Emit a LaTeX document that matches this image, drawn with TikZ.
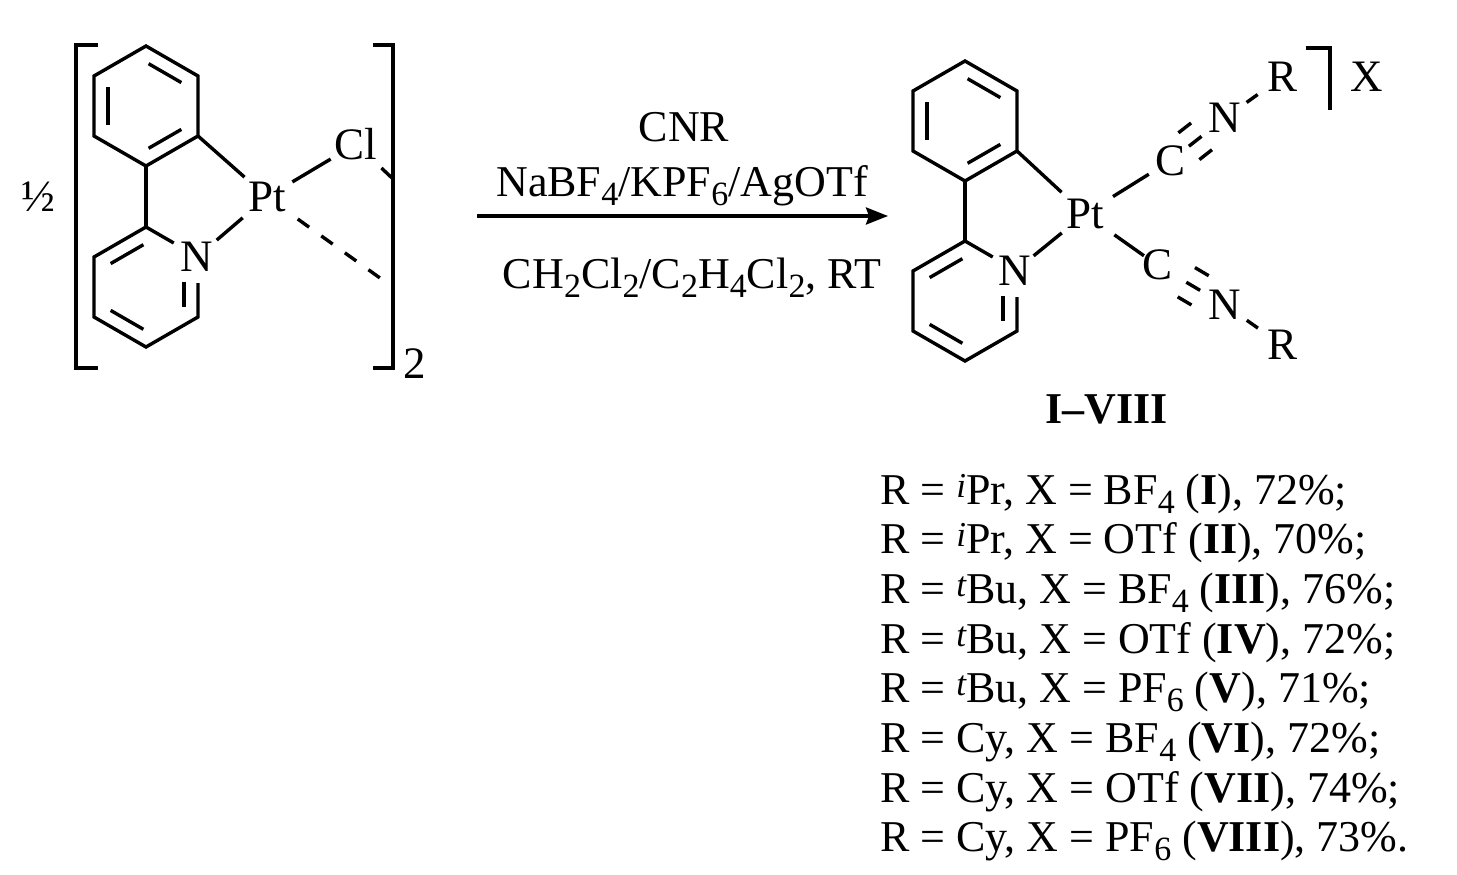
\documentclass[tikz,border=0pt]{standalone}
\usepackage{fontspec}
\setmainfont{Liberation Serif}
\usetikzlibrary{calc,arrows.meta}
\newcommand\sbs[1]{\raisebox{-9pt}{\fontsize{34}{34}\selectfont #1}}
\newcommand\sps[1]{\raisebox{7pt}{\fontsize{35}{35}\selectfont\itshape #1}}
\newcommand\hexring[3]{%
  \coordinate (#1c) at (#2,#3);
  \coordinate (#1t) at (#2,#3-60);
  \coordinate (#1ur) at (#2+52,#3-30);
  \coordinate (#1lr) at (#2+52,#3+30);
  \coordinate (#1b) at (#2,#3+60);
  \coordinate (#1ll) at (#2-52,#3+30);
  \coordinate (#1ul) at (#2-52,#3-30);
}
\newcommand\innerbond[5]{% ring, v1, v2, shorten at v1, shorten at v2
  \draw[bond, shorten <=#4, shorten >=#5] ($(#1c)!0.73!(#1#2)$) -- ($(#1c)!0.73!(#1#3)$);}
\newcommand\tribond[4]{%
  \foreach \o in {-17,0,17}{\draw[bond] ($(#1)!#3!(#2)!\o pt!90:(#2)$) -- ($(#1)!#4!(#2)!\o pt!90:(#2)$);}}
\begin{document}
\begin{tikzpicture}[x=1pt,y=-1pt,
  bond/.style={line width=3.4pt},
  atom/.style={inner sep=0pt, font=\fontsize{45}{50}\selectfont},
  txt/.style={inner sep=0pt, font=\fontsize{44}{50}\selectfont}]
\fill[white] (0,0) rectangle (1457,875);
\useasboundingbox (0,0) rectangle (1457,875);

% ---------- left dimer ----------
\hexring{ringA}{146}{106}
\hexring{ringB}{146}{287}
\node[atom] (N1) at (197,257) {N};
\node[atom] (Pt1) at (267,197) {Pt};
\node[atom] (Cl) at (356,144) {Cl};
\node[atom] (half) at (38,197) {½};
\node[atom, anchor=base] (two) at (415,378) {2};

\draw[bond] (ringAt) -- (ringAur) -- (ringAlr) -- (ringAb) -- (ringAll) -- (ringAul) -- cycle;
\innerbond{ringA}{t}{ur}{3pt}{3pt}
\innerbond{ringA}{ul}{ll}{3pt}{3pt}
\innerbond{ringA}{lr}{b}{3pt}{3pt}
\draw[bond] (ringAb) -- (ringBt);
\coordinate (BtN) at ($(ringBur)!28pt!(ringBt)$);
\coordinate (BlrN) at ($(ringBur)!26pt!(ringBlr)$);
\draw[bond] (BtN) -- (ringBt) -- (ringBul) -- (ringBll) -- (ringBb) -- (ringBlr) -- (BlrN);
\innerbond{ringB}{t}{ul}{3pt}{3pt}
\innerbond{ringB}{ll}{b}{3pt}{3pt}
\innerbond{ringB}{ur}{lr}{17pt}{2pt}

\draw[bond, shorten >=30pt] (ringAlr) -- (Pt1.center);
\draw[bond, shorten <=26pt, shorten >=32pt] (N1.center) -- (Pt1.center);
\draw[bond, shorten <=29.5pt, shorten >=29.5pt] (Pt1.center) -- (Cl.center);
\coordinate (clend) at (392,178);
\draw[bond, shorten <=35pt] (Cl.center) -- (clend);
\coordinate (dend) at (380,278);
\draw[bond, dash pattern=on 14pt off 15pt, shorten <=37.8pt] (Pt1.center) -- (dend);

\draw[bond] (98,45) -- (76,45) -- (76,368) -- (98,368);
\draw[bond] (373,45) -- (393,45) -- (393,368) -- (373,368);

% ---------- arrow ----------
\coordinate (arrS) at (477,216);
\coordinate (arrE) at (888,216);
\draw[line width=3.4pt, -{Stealth[length=22pt,width=17pt,inset=3pt]}] (arrS) -- (arrE);
\node[txt, anchor=base] (cnr) at (684,141) {CNR};
\node[txt, anchor=base] (salts) at (682,196) {NaBF\sbs{4}/KPF\sbs{6}/AgOTf};
\node[txt, anchor=base] (solv) at (692,288) {CH\sbs{2}Cl\sbs{2}/C\sbs{2}H\sbs{4}Cl\sbs{2}, RT};

% ---------- product ----------
\hexring{ringC}{965}{121}
\hexring{ringD}{965}{301}
\node[atom] (N2) at (1015,271) {N};
\node[atom] (Pt2) at (1085,214) {Pt};
\node[atom] (Ca) at (1170,161) {C};
\node[atom] (Cb) at (1157,265) {C};
\node[atom] (Na) at (1225,118) {N};
\node[atom] (Nb) at (1225,305) {N};
\node[atom] (Ra) at (1282,77) {R};
\node[atom] (Rb) at (1282,345) {R};
\node[atom] (X) at (1367,77) {X};

\draw[bond] (ringCt) -- (ringCur) -- (ringClr) -- (ringCb) -- (ringCll) -- (ringCul) -- cycle;
\innerbond{ringC}{t}{ur}{3pt}{3pt}
\innerbond{ringC}{ul}{ll}{3pt}{3pt}
\innerbond{ringC}{lr}{b}{3pt}{3pt}
\draw[bond] (ringCb) -- (ringDt);
\coordinate (DtN) at ($(ringDur)!28pt!(ringDt)$);
\coordinate (DlrN) at ($(ringDur)!26pt!(ringDlr)$);
\draw[bond] (DtN) -- (ringDt) -- (ringDul) -- (ringDll) -- (ringDb) -- (ringDlr) -- (DlrN);
\innerbond{ringD}{t}{ul}{3pt}{3pt}
\innerbond{ringD}{ll}{b}{3pt}{3pt}
\innerbond{ringD}{ur}{lr}{17pt}{2pt}

\draw[bond, shorten >=32pt] (ringClr) -- (Pt2.center);
\draw[bond, shorten <=24pt, shorten >=30pt] (N2.center) -- (Pt2.center);
\draw[bond, shorten <=33pt, shorten >=25pt] (Pt2.center) -- (Ca.center);
\draw[bond, shorten <=36pt, shorten >=16pt] (Pt2.center) -- (Cb.center);
\tribond{Ca.center}{Na.center}{24pt}{40pt}
\tribond{Cb.center}{Nb.center}{34pt}{50pt}
\draw[bond, shorten <=26.6pt, shorten >=30pt] (Na.center) -- (Ra.center);
\draw[bond, shorten <=26.6pt, shorten >=29.4pt] (Nb.center) -- (Rb.center);
\draw[bond] (1306,48) -- (1330,48) -- (1330,110);

\node[txt, anchor=base] (lbl) at (1107,423) {\textbf{I\textendash VIII}};

% ---------- list ----------
\node[txt, anchor=base west] (l1) at (880,504) {R = \sps{i}Pr, X = BF\sbs{4} (\textbf{I}), 72\%;};
\node[txt, anchor=base west] (l2) at (880,553.7) {R = \sps{i}Pr, X = OTf (\textbf{II}), 70\%;};
\node[txt, anchor=base west] (l3) at (880,603.4) {R = \sps{t}Bu, X = BF\sbs{4} (\textbf{III}), 76\%;};
\node[txt, anchor=base west] (l4) at (880,653.1) {R = \sps{t}Bu, X = OTf (\textbf{IV}), 72\%;};
\node[txt, anchor=base west] (l5) at (880,702.8) {R = \sps{t}Bu, X = PF\sbs{6} (\textbf{V}), 71\%;};
\node[txt, anchor=base west] (l6) at (880,752.5) {R = Cy, X = BF\sbs{4} (\textbf{VI}), 72\%;};
\node[txt, anchor=base west] (l7) at (880,802.2) {R = Cy, X = OTf (\textbf{VII}), 74\%;};
\node[txt, anchor=base west] (l8) at (880,851.9) {R = Cy, X = PF\sbs{6} (\textbf{VIII}), 73\%.};
\end{tikzpicture}
\end{document}
